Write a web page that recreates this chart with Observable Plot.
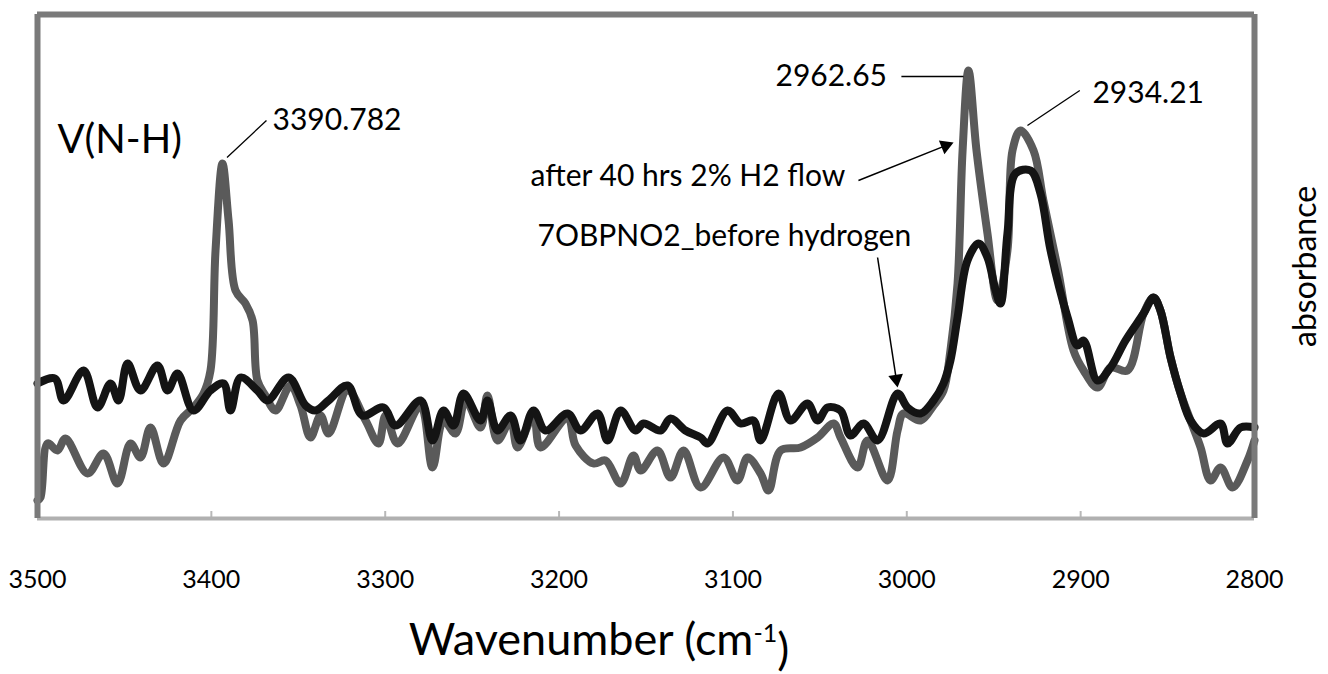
<!DOCTYPE html>
<html><head><meta charset="utf-8">
<script src="https://cdn.jsdelivr.net/npm/d3@7"></script>
<script src="https://cdn.jsdelivr.net/npm/@observablehq/plot@0.6"></script>
<style>
body{margin:0;background:#fff;}
#chart svg{display:block;}
</style></head><body><div id="chart"></div>
<script>
// ---- data (wavenumber cm-1, absorbance a.u.) ----
const beforeWn = [3500,3490,3485,3473.5,3465.5,3458,3453.4,3448.2,3440.8,3431,3425.2,3419.5,3410.3,3400.5,3393,3389,3383.2,3373.5,3367.7,3355.6,3345.8,3340.1,3332.6,3321.7,3313.1,3300.9,3294.1,3279.7,3272.8,3266.5,3260.7,3255,3245.2,3241.2,3235.4,3227.9,3222.2,3214.7,3207.8,3195.1,3187.7,3177.9,3172.1,3164.6,3156,3151.4,3141.7,3135.9,3127.3,3118.6,3114.6,3103.1,3095.6,3088.2,3084.1,3073.8,3066.9,3057.1,3051.3,3045.6,3038.1,3032.4,3024.9,3016.8,3005.3,2999.6,2992.1,2984.6,2978.9,2974.9,2970.8,2965.1,2958.7,2953.6,2948.9,2946.1,2942.1,2937.5,2928.8,2923.1,2917.3,2907.5,2901.8,2898.3,2890.3,2882.8,2874.2,2863.8,2858.1,2854.1,2848.3,2842.5,2836.8,2829.3,2819.5,2815.5,2808,2800];
const beforeAbs = [0.27,0.28,0.236,0.296,0.222,0.27,0.236,0.31,0.256,0.306,0.256,0.29,0.216,0.256,0.27,0.216,0.282,0.256,0.236,0.282,0.226,0.216,0.236,0.266,0.206,0.222,0.186,0.236,0.156,0.216,0.186,0.25,0.196,0.236,0.176,0.206,0.156,0.216,0.176,0.21,0.176,0.21,0.156,0.216,0.176,0.19,0.176,0.2,0.176,0.162,0.15,0.216,0.19,0.196,0.156,0.25,0.196,0.23,0.196,0.222,0.216,0.166,0.19,0.156,0.25,0.222,0.21,0.236,0.27,0.316,0.402,0.516,0.55,0.522,0.456,0.43,0.57,0.69,0.696,0.65,0.536,0.402,0.346,0.356,0.276,0.302,0.356,0.41,0.442,0.416,0.322,0.25,0.196,0.17,0.19,0.15,0.182,0.182];

const afterWn = [3500,3498.3,3494.2,3488.5,3483.9,3471.2,3462,3454,3446.5,3440.8,3435,3427.5,3417.7,3410.3,3404.5,3400.5,3397.6,3393.6,3390.1,3386.1,3380.4,3376.3,3373.5,3368.9,3363.1,3354.5,3348.7,3343,3337.2,3332.6,3321.7,3311.3,3303.9,3299.8,3292.9,3279.7,3272.8,3266.5,3259.6,3253.8,3245.2,3241.2,3235.4,3227.9,3223.9,3214.7,3210.7,3195.1,3190.5,3180.2,3173.3,3164.6,3157.2,3153.1,3143.4,3135.9,3128.4,3118.6,3105.4,3097.4,3091.6,3084.1,3079.5,3072.6,3061.1,3051.3,3042.1,3038.1,3028.3,3022.6,3011.1,3005.3,3001.9,2992.1,2984.6,2978.9,2974.9,2970.8,2967.9,2964.5,2959.9,2953.6,2947.8,2942.1,2939.2,2934.6,2927.1,2921.4,2913.3,2904.1,2898.3,2890.3,2882.8,2873.1,2863.8,2858.1,2854.1,2848.3,2842.5,2836.8,2831,2825.3,2819.5,2812.6,2804,2800];
const afterAbs = [0.036,0.042,0.15,0.136,0.16,0.09,0.13,0.07,0.15,0.122,0.182,0.11,0.196,0.222,0.25,0.296,0.536,0.71,0.596,0.456,0.43,0.396,0.276,0.246,0.216,0.266,0.226,0.162,0.206,0.17,0.256,0.196,0.15,0.206,0.15,0.226,0.102,0.196,0.17,0.236,0.182,0.246,0.156,0.196,0.142,0.206,0.142,0.202,0.146,0.11,0.116,0.07,0.126,0.096,0.136,0.082,0.136,0.062,0.122,0.076,0.122,0.09,0.056,0.136,0.142,0.162,0.19,0.162,0.102,0.156,0.076,0.176,0.21,0.196,0.226,0.256,0.336,0.47,0.736,0.896,0.736,0.57,0.436,0.536,0.736,0.776,0.736,0.636,0.502,0.336,0.296,0.262,0.302,0.296,0.41,0.442,0.416,0.322,0.25,0.196,0.142,0.076,0.102,0.062,0.116,0.156];

const xTicks = [3500,3400,3300,3200,3100,3000,2900,2800];

// annotations
const noteText = ["V(N-H)","3390.782","2962.65","2934.21","after 40 hrs 2% H2 flow","7OBPNO2_before hydrogen"];
const noteWn   = [3488.5, 3364.8, 3075.5, 2893.2, 3216.4, 3212.4];
const noteAbs  = [0.756, 0.796, 0.884, 0.85, 0.684, 0.564];
const leaderWn1 = [3391, 3003.1, 2930.6];
const leaderAbs1 = [0.722, 0.884, 0.786];
const leaderWn2 = [3368.3, 2967.4, 2900.5];
const leaderAbs2 = [0.796, 0.884, 0.856];
const arrowWn1 = [3027.8, 3016.8];
const arrowAbs1 = [0.676, 0.522];
const arrowWn2 = [2973.1, 3005.3];
const arrowAbs2 = [0.752, 0.262];
const axisTitle = "Wavenumber (cm-1)";
const yTitle = "absorbance";

// ---- build ----
const W = 1328, H = 674, mL = 37, mR = 74, mT = 14, mB = 156;
const xDomain = [3500, 2800], yDomain = [0, 1.008];
const before = beforeWn.map((w,i)=>({wn:w, abs:beforeAbs[i]}));
const after = afterWn.map((w,i)=>({wn:w, abs:afterAbs[i]}));
const notes = noteText.map((t,i)=>({t, wn:noteWn[i], abs:noteAbs[i]}));
const leaders = leaderWn1.map((w,i)=>({x1:w, y1:leaderAbs1[i], x2:leaderWn2[i], y2:leaderAbs2[i]}));

const sx = Plot.scale({x:{domain:xDomain, range:[mL, W-mR]}});
const sy = Plot.scale({y:{domain:yDomain, range:[H-mB, mT]}});
const headR = 5.5;
const arrows = arrowWn1.map((w,i)=>{
  const px1 = sx.apply(w), py1 = sy.apply(arrowAbs1[i]);
  const px2 = sx.apply(arrowWn2[i]), py2 = sy.apply(arrowAbs2[i]);
  const ang = Math.atan2(py2-py1, px2-px1);
  const back = 1.555*headR;
  const cx = px2 - Math.cos(ang)*back, cy = py2 - Math.sin(ang)*back;
  return {x1:w, y1:arrowAbs1[i], x2:arrowWn2[i], y2:arrowAbs2[i],
          hx: sx.invert(cx), hy: sy.invert(cy), rot: ang*180/Math.PI + 90};
});

const font = "Lato, 'Open Sans', sans-serif";
const plot = Plot.plot({
  width: W, height: H,
  marginLeft: mL, marginRight: mR, marginTop: mT, marginBottom: mB,
  x: {domain: xDomain},
  y: {domain: yDomain, axis: null},
  style: {fontFamily: font, color: "#000", background: "#fff", overflow: "visible"},
  marks: [
    Plot.ruleX(xTicks.slice(1,-1), {y1: 0, y2: 0.014, stroke: "#b8b8b8", strokeWidth: 2}),
    Plot.line(after, {x:"wn", y:"abs", stroke:"#5a5a5a", strokeWidth:8, curve:"catmull-rom", strokeLinejoin:"round"}),
    Plot.line(before, {x:"wn", y:"abs", stroke:"#141414", strokeWidth:8, curve:"catmull-rom", strokeLinejoin:"round"}),
    Plot.ruleY([yDomain[0]], {stroke:"#b0b0b0", strokeWidth:4}),
    Plot.ruleY([yDomain[1]], {stroke:"#7a7a7a", strokeWidth:6}),
    Plot.ruleX(xDomain, {stroke:"#7a7a7a", strokeWidth:6}),
    Plot.axisX({ticks: xTicks, tickSize: 0, tickPadding: 52, tickFormat: d=>String(d), fontSize: 25, label: null}),
    Plot.link(leaders, {x1:"x1", y1:"y1", x2:"x2", y2:"y2", stroke:"#000", strokeWidth:1.3}),
    Plot.link(arrows, {x1:"x1", y1:"y1", x2:"hx", y2:"hy", stroke:"#000", strokeWidth:1.5}),
    Plot.dot(arrows, {x:"hx", y:"hy", symbol:"triangle", r: headR, fill:"#000", stroke:"none", rotate:"rot"}),
    Plot.text(notes.slice(0,1), {x:"wn", y:"abs", text:"t", textAnchor:"start", fontSize: 40, fill:"#000"}),
    Plot.text(notes.slice(1), {x:"wn", y:"abs", text:"t", textAnchor:"start", fontSize: 30, fill:"#000"}),
    Plot.text([yTitle], {frameAnchor:"right", textAnchor:"middle", rotate:-90, dx: 51, fontSize: 32, fill:"#000"}),
    Plot.text([axisTitle], {frameAnchor:"bottom", textAnchor:"middle", dy: 136, dx: -47, fontSize: 45, fill:"#000"})
  ]
});
document.getElementById("chart").appendChild(plot);
// superscript for cm-1
const tEl = [...plot.querySelectorAll("text")].find(e => e.textContent === axisTitle);
if (tEl) {
  tEl.textContent = "Wavenumber (cm";
  const ns = "http://www.w3.org/2000/svg";
  const s1 = document.createElementNS(ns, "tspan");
  s1.setAttribute("dy", "-0.5em"); s1.setAttribute("font-size", "25"); s1.textContent = "-1";
  const s2 = document.createElementNS(ns, "tspan");
  s2.setAttribute("dy", "0.5em"); s2.textContent = ")";
  tEl.appendChild(s1); tEl.appendChild(s2);
}
</script></body></html>
